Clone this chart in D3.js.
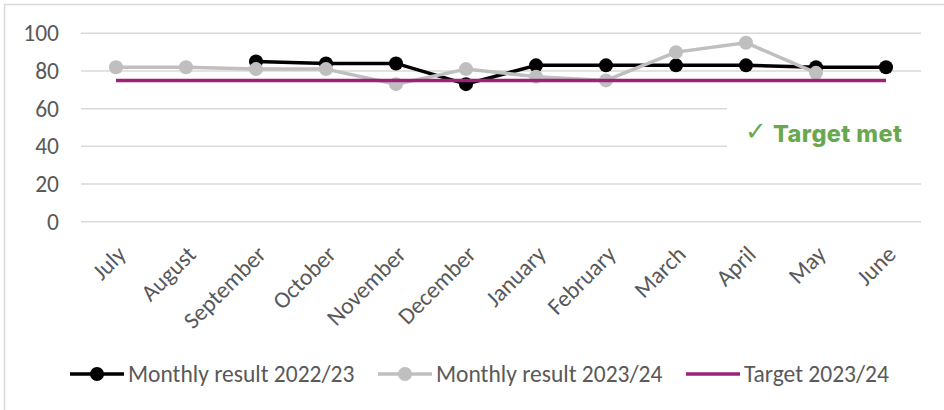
<!DOCTYPE html>
<html>
<head>
<meta charset="utf-8">
<script src="https://cdn.jsdelivr.net/npm/d3@7"></script>
<style>
  body { margin: 0; background: #fff; }
  svg { display: block; }
</style>
</head>
<body>
<script>
const months = ["July", "August", "September", "October", "November", "December",
  "January", "February", "March", "April", "May", "June"];
const result2223 = [null, null, 85, 84, 84, 73, 83, 83, 83, 83, 82, 82];
const result2324 = [82, 82, 81, 81, 73, 81, 77, 75, 90, 95, 79, null];
const target2324 = [75, 75, 75, 75, 75, 75, 75, 75, 75, 75, 75, 75];
const yTicks = [0, 20, 40, 60, 80, 100];

const width = 944;
const height = 410;
const font = "Carlito, Calibri, Lato, sans-serif";

const svg = d3.select("body").append("svg")
  .attr("width", width)
  .attr("height", height);

// chart border (only top/left fall inside the crop)
svg.append("rect")
  .attr("x", 4.5).attr("y", 4.5)
  .attr("width", width + 10).attr("height", height + 10)
  .attr("fill", "#fff")
  .attr("stroke", "#d9d9d9")
  .attr("stroke-width", 1.5);

const xScale = d3.scalePoint()
  .domain(months)
  .range([81, 921])
  .padding(0.5);

const yScale = d3.scaleLinear()
  .domain([0, 100])
  .range([221.7, 33.3]);

// gridlines
svg.append("g")
  .selectAll("line")
  .data(yTicks)
  .enter()
  .append("line")
  .attr("x1", 81).attr("x2", 921)
  .attr("y1", (d) => yScale(d)).attr("y2", (d) => yScale(d))
  .attr("stroke", "#d9d9d9")
  .attr("stroke-width", 1.5);

// y axis labels
const yAxis = d3.axisLeft(yScale).tickValues(yTicks).tickSize(0).tickPadding(0);
svg.append("g")
  .attr("transform", "translate(59,0)")
  .call(yAxis)
  .call((g) => g.select(".domain").remove())
  .selectAll("text")
  .attr("font-family", font)
  .attr("font-size", "23.5px")
  .attr("fill", "#595959");

// x axis labels
const xAxis = d3.axisBottom(xScale).tickSize(0).tickPadding(0);
svg.append("g")
  .attr("transform", "translate(0,236)")
  .call(xAxis)
  .call((g) => g.select(".domain").remove())
  .selectAll("text")
  .attr("font-family", font)
  .attr("font-size", "23.5px")
  .attr("fill", "#595959")
  .attr("text-anchor", "end")
  .attr("dy", "0.35em")
  .attr("transform", "translate(5,14) rotate(-45)");

// white box behind the "Target met" note
svg.append("rect")
  .attr("x", 727).attr("y", 98)
  .attr("width", 200).attr("height", 60)
  .attr("fill", "#fff");

svg.append("text")
  .attr("x", 745).attr("y", 140)
  .attr("font-family", "'DejaVu Sans', sans-serif")
  .attr("font-size", "26px")
  .attr("fill", "#6aa84f")
  .text("\u2713");

svg.append("text")
  .attr("x", 773).attr("y", 142)
  .attr("font-family", "Inter, 'Open Sans', sans-serif")
  .attr("font-weight", 800)
  .attr("font-size", "23.5px")
  .attr("letter-spacing", "0.4px")
  .attr("fill", "#6aa84f")
  .text("Target met");

const line = d3.line()
  .defined((d) => d != null)
  .x((d, i) => xScale(months[i]))
  .y((d) => yScale(d));

function drawSeries(values, color, withMarkers) {
  const g = svg.append("g");
  g.append("path")
    .attr("d", line(values))
    .attr("fill", "none")
    .attr("stroke", color)
    .attr("stroke-width", 3.5)
    .attr("stroke-linejoin", "round");
  if (withMarkers) {
    g.selectAll("circle")
      .data(values.map((v, i) => [months[i], v]).filter((d) => d[1] != null))
      .enter()
      .append("circle")
      .attr("cx", (d) => xScale(d[0]))
      .attr("cy", (d) => yScale(d[1]))
      .attr("r", 7)
      .attr("fill", color);
  }
}

drawSeries(result2223, "#000000", true);
drawSeries(result2324, "#bfbfbf", true);
drawSeries(target2324, "#9b2278", false);

// legend
const legendItems = [
  { label: "Monthly result 2022/23", color: "#000000", marker: true, x: 70 },
  { label: "Monthly result 2023/24", color: "#bfbfbf", marker: true, x: 378 },
  { label: "Target 2023/24", color: "#9b2278", marker: false, x: 686 },
];
const legendY = 374;
const legend = svg.append("g");
legendItems.forEach((item) => {
  const g = legend.append("g").attr("transform", `translate(${item.x},${legendY})`);
  g.append("line")
    .attr("x1", 0).attr("x2", 54)
    .attr("stroke", item.color)
    .attr("stroke-width", 3.5);
  if (item.marker) {
    g.append("circle").attr("cx", 27).attr("r", 7).attr("fill", item.color);
  }
  g.append("text")
    .attr("x", 58)
    .attr("dy", "0.35em")
    .attr("font-family", font)
    .attr("font-size", "23.5px")
    .attr("fill", "#595959")
    .text(item.label);
});
</script>
</body>
</html>
